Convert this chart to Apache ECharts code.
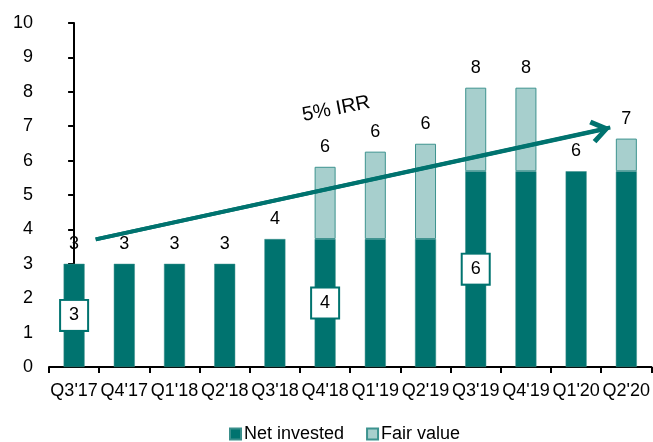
<!DOCTYPE html>
<html>
<head>
<meta charset="utf-8">
<script src="https://cdn.jsdelivr.net/npm/echarts@6/dist/echarts.min.js"></script>
<style>
	html, body { margin: 0; padding: 0; background: #fff; }
	#chart { width: 653px; height: 442px; }
</style>
</head>
<body>
<div id="chart"></div>
<script>
// 季度
const quarters = ["Q3'17", "Q4'17", "Q1'18", "Q2'18", "Q3'18", "Q4'18", "Q1'19", "Q2'19", "Q3'19", "Q4'19", "Q1'20", "Q2'20"];
// 净投资
const netInvested = [3.0, 3.0, 3.0, 3.0, 3.72, 3.72, 3.72, 3.72, 5.69, 5.69, 5.69, 5.69];
// 公允价值增量
const fairValue = [0, 0, 0, 0, 0, 2.1, 2.54, 2.77, 2.43, 2.43, 0, 0.95];
// 柱顶标签
const totalLabels = [3, 3, 3, 3, 4, 6, 6, 6, 8, 8, 6, 7];
// 框内标签 (净投资)
const boxedLabels = { 0: '3', 5: '4', 8: '6' };
// IRR 箭头 (x 为类目序号)
const irrArrowX = [0.43, 10.49];
const irrArrowY = [3.71, 6.89];
const irrTipX = 10.68;
const irrTipY = 6.96;
const irrText = '5% IRR';
const irrTextPos = [5.22, 7.5];

const dark = '#00736F';
const light = '#A7CFCD';
const font = "'Liberation Sans', Arial, sans-serif";

const totals = netInvested.map((v, i) => v + fairValue[i]);

let myChart = echarts.init(document.getElementById('chart'));
myChart.setOption({
	animation: false,
	grid: { left: 49, right: 0, top: 23, bottom: 75, containLabel: false },
	legend: {
		data: ['Net invested', 'Fair value'],
		left: 224,
		top: 420,
		itemWidth: 11,
		itemHeight: 11,
		itemGap: 22,
		icon: 'rect',
		textStyle: { fontSize: 18, color: '#000', fontFamily: font, padding: [0, 0, 0, -2] }
	},
	xAxis: [{
		type: 'category',
		data: quarters,
		axisLine: { lineStyle: { color: '#000', width: 2 } },
		axisTick: { show: true, length: 6, lineStyle: { color: '#000', width: 2 } },
		axisLabel: { color: '#000', fontSize: 18, fontFamily: font, margin: 15, interval: 0 }
	}, {
		type: 'value',
		min: -0.5,
		max: 11.5,
		show: false
	}],
	yAxis: {
		type: 'value',
		min: 0,
		max: 10,
		interval: 1,
		splitLine: { show: false },
		axisLine: { show: true, lineStyle: { color: '#000', width: 2 } },
		axisTick: { show: true, length: 6, lineStyle: { color: '#000', width: 2 } },
		axisLabel: { color: '#000', fontSize: 18, fontFamily: font, margin: 16 }
	},
	series: [{
		name: 'Net invested',
		type: 'bar',
		stack: 'total',
		barWidth: 21,
		itemStyle: { color: dark, borderColor: '#3a8f8b', borderWidth: 0.5 },
		data: netInvested.map((v, i) => {
			if (boxedLabels[i] === undefined) return v;
			return {
				value: v,
				label: {
					show: true,
					position: 'inside',
					formatter: boxedLabels[i],
					color: '#000',
					fontSize: 18,
					fontFamily: font,
					backgroundColor: '#fff',
					borderColor: dark,
					borderWidth: 2,
					padding: [6, 8, 5, 8]
				}
			};
		})
	}, {
		name: 'Fair value',
		type: 'bar',
		stack: 'total',
		barWidth: 21,
		itemStyle: { color: light, borderColor: '#3d938f', borderWidth: 1 },
		data: fairValue.map((v) => v === 0 ? '-' : v)
	}, {
		name: 'totals',
		type: 'scatter',
		symbolSize: 0,
		silent: true,
		itemStyle: { opacity: 1 },
		data: totals,
		label: {
			show: true,
			position: 'top',
			distance: 11,
			color: '#000',
			fontSize: 18,
			fontFamily: font,
			formatter: (p) => totalLabels[p.dataIndex]
		}
	}, {
		name: 'irr',
		type: 'line',
		xAxisIndex: 1,
		symbol: 'none',
		silent: true,
		lineStyle: { color: dark, width: 4 },
		data: [[irrArrowX[0], irrArrowY[0]], [irrTipX, irrTipY]],
		markLine: {
			silent: true,
			symbol: ['none', 'path://M10,0 L20,14 L16.8,16.5 L10,7 L3.2,16.5 L0,14 Z'],
			symbolSize: [24, 20],
			lineStyle: { color: dark, width: 4, type: 'solid' },
			itemStyle: { color: dark },
			label: { show: false },
			data: [[{ coord: [irrArrowX[0], irrArrowY[0]] }, { coord: [irrArrowX[1], irrArrowY[1]] }]]
		},
		markPoint: {
			silent: true,
			symbolSize: 0,
			data: [{ coord: irrTextPos, value: irrText }],
			label: {
				show: true,
				position: 'inside',
				formatter: irrText,
				rotate: 11,
				color: '#000',
				fontSize: 20,
				fontFamily: font
			}
		}
	}]
});
</script>
</body>
</html>
